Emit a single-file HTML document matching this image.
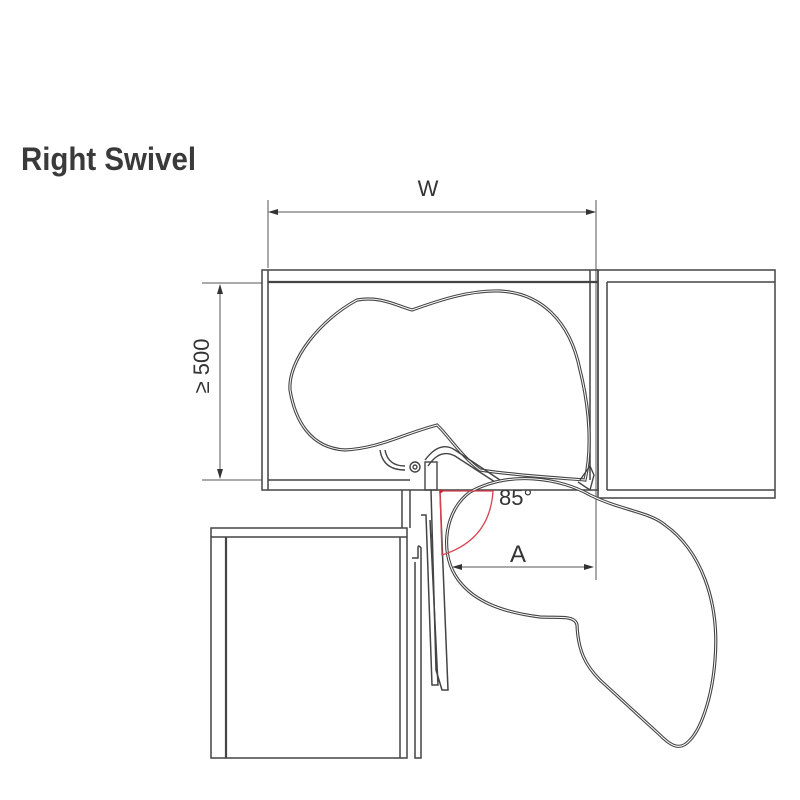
<!DOCTYPE html>
<html><head><meta charset="utf-8"><style>
html,body{margin:0;padding:0;background:#fff}
svg{display:block}
</style></head><body>
<svg width="800" height="800" viewBox="0 0 800 800" xmlns="http://www.w3.org/2000/svg">
<rect width="800" height="800" fill="#fff"/>
<text x="21" y="170" font-family="Liberation Sans, sans-serif" font-weight="bold" font-size="32" fill="#3a3a3a" textLength="175" lengthAdjust="spacingAndGlyphs">Right Swivel</text>

<g stroke="#555" fill="none" stroke-width="1">
  <line x1="268" y1="200" x2="268" y2="268"/>
  <line x1="596" y1="200" x2="596" y2="580"/>
  <line x1="270" y1="212" x2="594" y2="212"/>
  <line x1="202" y1="283" x2="262" y2="283"/>
  <line x1="202" y1="480" x2="262" y2="480"/>
  <line x1="220" y1="285" x2="220" y2="478"/>
  <line x1="454" y1="567" x2="592" y2="567"/>
</g>
<g fill="#333">
  <polygon points="268,212 278,209 278,215"/>
  <polygon points="596,212 586,209 586,215"/>
  <polygon points="220,284 217,294 223,294"/>
  <polygon points="220,479 217,469 223,469"/>
  <polygon points="452,567 462,564 462,570"/>
  <polygon points="594,567 584,564 584,570"/>
</g>
<text x="428" y="196" font-family="Liberation Sans, sans-serif" font-size="22" fill="#333" text-anchor="middle">W</text>
<text x="518" y="562" font-family="Liberation Sans, sans-serif" font-size="24" fill="#333" text-anchor="middle">A</text>
<text x="499" y="505" font-family="Liberation Sans, sans-serif" font-size="22" fill="#333">85°</text>
<text transform="translate(209,366) rotate(-90)" font-family="Liberation Sans, sans-serif" font-size="22" fill="#333" text-anchor="middle">≥ 500</text>

<g stroke="#444" fill="none" stroke-width="1.5">
  <rect x="262" y="270" width="336" height="220"/>
  <line x1="268" y1="282" x2="598" y2="282" stroke-width="2.2"/>
  <line x1="268" y1="270" x2="268" y2="490"/>
  <line x1="268" y1="480" x2="410" y2="480"/>
  <line x1="590" y1="270" x2="590" y2="480"/>
  <rect x="598" y="270" width="177" height="228"/>
  <line x1="607" y1="282" x2="775" y2="282"/>
  <line x1="607" y1="282" x2="607" y2="490"/>
  <line x1="607" y1="490" x2="775" y2="490"/>
  <rect x="211" y="528" width="196" height="230"/>
  <line x1="211" y1="537" x2="407" y2="537"/>
  <line x1="226" y1="537" x2="226" y2="758" stroke-width="2.2"/>
  <line x1="400" y1="537" x2="400" y2="758"/>
  <line x1="402" y1="490" x2="402" y2="528"/>
  <line x1="410" y1="490" x2="410" y2="528"/>
  <path d="M412,558 L418,558 L418,548 Q418,544 421,548 L421,758 L415,758 L415,562"/>
  <path d="M431,490 L436,670 L442,690 L448,690 L440,492"/>
  <path d="M421,515 L426,515 L432,685 L438,685 L430,520"/>
</g>

<path d="M357,300 C380,296 395,305 412,310 C440,300 470,290 500,291 C540,293 570,320 580,370 C590,410 592,450 585,480 C560,478 520,476 480,470 C460,455 448,435 437,425 C400,435 380,448 345,450 C310,448 295,420 290,390 C288,360 320,320 357,300 Z" fill="none" stroke="#444" stroke-width="3.2"/>
<path d="M357,300 C380,296 395,305 412,310 C440,300 470,290 500,291 C540,293 570,320 580,370 C590,410 592,450 585,480 C560,478 520,476 480,470 C460,455 448,435 437,425 C400,435 380,448 345,450 C310,448 295,420 290,390 C288,360 320,320 357,300 Z" fill="none" stroke="#fff" stroke-width="1"/>
<g fill="none" stroke="#444" stroke-width="1.4">
  <path d="M380,450 Q383,470 405,470"/>
  <path d="M385,450 Q388,466 405,466"/>
  <path d="M425,460 Q440,440 455,450 L500,480"/>
  <path d="M428,466 Q440,448 455,456 L495,482"/>
  <rect x="425" y="462" width="12" height="28"/>
  <circle cx="415" cy="467" r="5"/>
  <circle cx="415" cy="467" r="2"/>
  <path d="M580,480 L590,466 L594,475 L590,490 L578,482"/>
</g>
<path d="M470,492 C510,470 560,478 590,495 C620,510 650,512 665,525 C700,550 720,600 715,660 C712,700 700,730 690,740 C680,752 670,745 660,735 L600,680 C585,665 578,650 577,625 C575,615 560,618 540,617 C500,612 470,600 455,575 C440,550 445,510 470,492 Z" fill="none" stroke="#444" stroke-width="3.2"/>
<path d="M470,492 C510,470 560,478 590,495 C620,510 650,512 665,525 C700,550 720,600 715,660 C712,700 700,730 690,740 C680,752 670,745 660,735 L600,680 C585,665 578,650 577,625 C575,615 560,618 540,617 C500,612 470,600 455,575 C440,550 445,510 470,492 Z" fill="none" stroke="#fff" stroke-width="1"/>

<path d="M440,491 L493,491 Q490,540 442,555 Z" fill="none" stroke="#d94050" stroke-width="1.3"/>
<circle cx="441" cy="491" r="1.8" fill="#c02030"/>
</svg>
</body></html>
